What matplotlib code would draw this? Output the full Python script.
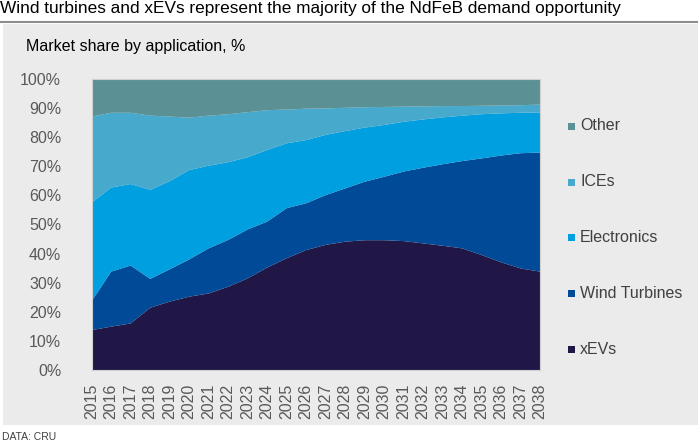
import matplotlib
matplotlib.use("Agg")
import matplotlib.pyplot as plt
from matplotlib.patches import Rectangle
from matplotlib.lines import Line2D

plt.rcParams['font.family'] = ['Liberation Sans', 'DejaVu Sans']

years = list(range(2015, 2039))
series_names = ["xEVs", "Wind Turbines", "Electronics", "ICEs", "Other"]
xevs = [13.7, 14.9, 16.0, 21.4, 23.5, 25.2, 26.3, 28.6, 31.5, 35.2, 38.4, 41.2,
        43.0, 44.1, 44.6, 44.6, 44.3, 43.5, 42.7, 41.8, 39.5, 37.0, 34.9, 33.8]
wind = [10.0, 18.9, 19.9, 9.9, 11.1, 12.8, 15.5, 16.1, 16.8, 15.8, 17.2, 16.1,
        17.1, 18.3, 20.1, 21.8, 23.9, 26.0, 28.0, 30.0, 33.2, 36.7, 39.6, 40.9]
electronics = [33.8, 28.9, 28.0, 30.6, 30.3, 30.7, 28.4, 26.7, 24.8, 24.6, 22.3, 21.7,
               20.7, 19.7, 18.6, 17.8, 17.1, 16.6, 16.1, 15.6, 15.2, 14.5, 13.9, 13.8]
ices = [29.6, 25.7, 24.5, 25.5, 22.2, 18.0, 17.2, 16.5, 15.5, 13.7, 11.6, 10.8,
        9.1, 8.0, 7.0, 6.2, 5.2, 4.5, 3.9, 3.3, 2.9, 2.7, 2.6, 2.7]
other = [12.9, 11.6, 11.6, 12.6, 12.9, 13.3, 12.6, 12.1, 11.4, 10.7, 10.5, 10.2,
         10.1, 9.9, 9.7, 9.6, 9.5, 9.4, 9.3, 9.3, 9.2, 9.1, 9.0, 8.8]
yticks = [0, 10, 20, 30, 40, 50, 60, 70, 80, 90, 100]
colors = ["#211747", "#004A98", "#009FE0", "#47A9CB", "#5B9195"]

W, H = 698, 443
fig = plt.figure(figsize=(W / 100, H / 100), dpi=100, facecolor="white")

# grey panel
fig.patches.append(Rectangle((3 / W, 1 - 425 / H), 1 - 3 / W, (425 - 24) / H,
                             transform=fig.transFigure, facecolor="#EBEBEB",
                             edgecolor="none", zorder=-5))
# line under title
fig.lines.append(Line2D([0, 1], [1 - 21.5 / H, 1 - 21.5 / H], transform=fig.transFigure,
                        color="#8C8C8C", linewidth=1.5, zorder=-4))

fig.text(0 / W, 1 - 9 / H, "Wind turbines and xEVs represent the majority of the NdFeB demand opportunity",
         ha="left", va="center", fontsize=12.4, color="#000000")
fig.text(26 / W, 1 - 47 / H, "Market share by application, %", ha="left", va="center",
         fontsize=11.5, color="#000000")
fig.text(2 / W, 1 - 437 / H, "DATA: CRU", ha="left", va="center", fontsize=7.5, color="#404040")

left, right, top, bottom = 91.7, 540.2, 79, 370
ax = fig.add_axes([left / W, 1 - bottom / H, (right - left) / W, (bottom - top) / H])
ax.set_zorder(2)
ax.set_facecolor("#EBEBEB")
ax.stackplot(years, xevs, wind, electronics, ices, other, colors=colors,
             labels=series_names, linewidth=0)
ax.set_xlim(years[0], years[-1])
ax.set_ylim(0, 100)
ax.set_yticks(yticks)
ax.set_yticklabels([f"{v}%" for v in yticks])
ax.set_xticks(years)
ax.set_xticklabels([str(y) for y in years], rotation=90)
ax.tick_params(axis="both", length=0, labelsize=11.5, colors="#595959")
ax.tick_params(axis="y", pad=22)
ax.tick_params(axis="x", pad=10)
for s in ax.spines.values():
    s.set_color("#D0D0D0")
    s.set_linewidth(0.8)

# legend (manual, top to bottom: Other ... xEVs)
leg_y = [126, 182, 237, 293, 349]
for name, col, yy in zip(series_names[::-1], colors[::-1], leg_y):
    fig.patches.append(Rectangle((568 / W, 1 - (yy + 3.5) / H), 7 / W, 7 / H,
                                 transform=fig.transFigure, facecolor=col,
                                 edgecolor="none", zorder=3))
    fig.text(580 / W, 1 - yy / H, name, ha="left", va="center", fontsize=11.5,
             color="#404040", zorder=3)

fig.savefig("out.png", dpi=100, facecolor="white")
